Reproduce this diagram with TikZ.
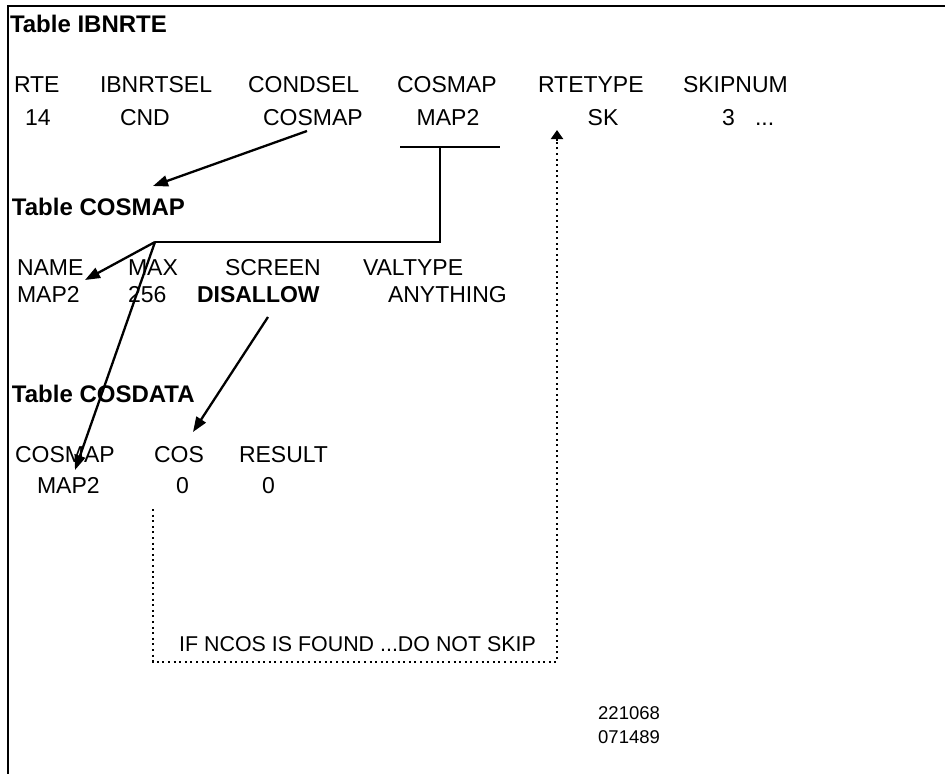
\documentclass[tikz,border=0pt]{standalone}
\usepackage{fontspec}
\setmainfont{Liberation Sans}
\usetikzlibrary{arrows.meta}
\begin{document}
\begin{tikzpicture}[x=1pt,y=-1pt,
  txt/.style={anchor=base west,inner sep=0pt,outer sep=0pt,font=\fontsize{23}{27}\selectfont},
  ctxt/.style={anchor=base,inner sep=0pt,outer sep=0pt,font=\fontsize{23}{27}\selectfont},
  ttl/.style={txt,font=\fontsize{24}{28}\selectfont\bfseries},
  note/.style={anchor=base west,inner sep=0pt,font=\fontsize{21.4}{25}\selectfont},
  stamp/.style={anchor=base west,inner sep=0pt,font=\fontsize{18.5}{22}\selectfont},
  link/.style={line width=2.3pt,-{Triangle[length=15pt,width=11pt]}},
  wire/.style={line width=2.3pt},
  dots/.style={line width=2pt,dash pattern=on 2pt off 3.6pt},
  dotarrow/.style={line width=2pt,-{Triangle[length=9pt,width=12pt]}}]
\useasboundingbox (0,0) rectangle (945,774);
% frame
\draw[line width=2.8pt] (945,6) -- (8,6) -- (8,774);

% Table IBNRTE
\node[ttl] (t1) at (10,32) {Table IBNRTE};
\node[txt] (h-rte) at (14,92) {RTE};
\node[txt] (h-sel) at (100,92) {IBNRTSEL};
\node[txt] (h-cond) at (248,92) {CONDSEL};
\node[txt] (h-cmap) at (397,92) {COSMAP};
\node[txt] (h-type) at (538,92) {RTETYPE};
\node[txt] (h-skip) at (683,92) {SKIPNUM};
\node[txt] (v-rte) at (25,125) {14};
\node[txt] (v-sel) at (120,125) {CND};
\node[txt] (v-cond) at (263,125) {COSMAP};
\node[ctxt] (v-cmap) at (448,125) {MAP2};
\node[ctxt] (v-type) at (603,125) {SK};
\node[txt] (v-skip) at (722,125) {3};
\node[txt] (v-more) at (755,125) {...};

% Table COSMAP
\node[ttl] (t2) at (12,215) {Table COSMAP};
\node[txt] (m-name) at (17,275) {NAME};
\node[txt] (m-max) at (128,275) {MAX};
\node[txt] (m-scr) at (225,275) {SCREEN};
\node[txt] (m-val) at (363,275) {VALTYPE};
\node[txt] (m-namev) at (17,302) {MAP2};
\node[txt] (m-maxv) at (128,302) {256};
\node[txt,font=\fontsize{23}{27}\selectfont\bfseries] (m-scrv) at (197,302) {DISALLOW};
\node[txt] (m-valv) at (388,302) {ANYTHING};

% Table COSDATA
\node[ttl] (t3) at (12,402) {Table COSDATA};
\node[txt] (d-map) at (15,462) {COSMAP};
\node[txt] (d-cos) at (154,462) {COS};
\node[txt] (d-res) at (239,462) {RESULT};
\node[txt] (d-mapv) at (37,493) {MAP2};
\node[txt] (d-cosv) at (176,493) {0};
\node[txt] (d-resv) at (262,493) {0};

% skip note and stamp
\node[note] (skipnote) at (179,651) {IF NCOS IS FOUND ...DO NOT SKIP};
\node[stamp] (s1) at (598,719) {221068};
\node[stamp] (s2) at (598,743) {071489};

% connector points
\coordinate (condsrc) at (307,131);
\coordinate (condtip) at (153,186);
\coordinate (barL) at (400,147);
\coordinate (barR) at (500,147);
\coordinate (barM) at (440,147);
\coordinate (turn) at (440,242);
\coordinate (fork) at (155,242);
\coordinate (nametip) at (85,280);
\coordinate (maptip) at (75,470);
\coordinate (scrsrc) at (268,317);
\coordinate (costip) at (193,432);
\coordinate (dotA) at (153,509);
\coordinate (dotB) at (153,662);
\coordinate (dotC) at (557,662);
\coordinate (dotE) at (557,141);
\coordinate (dotD) at (557,130);

\draw[link] (condsrc) -- (condtip);
\draw[wire] (barL) -- (barR);
\draw[wire,line join=miter] (barM) -- (turn) -- (fork);
\draw[link] (fork) -- (nametip);
\draw[link] (fork) -- (maptip);
\draw[link] (scrsrc) -- (costip);
\draw[dots] (dotA) -- (dotB) -- (dotC) -- (dotE);
\draw[dotarrow] (dotE) -- (dotD);
\end{tikzpicture}
\end{document}
